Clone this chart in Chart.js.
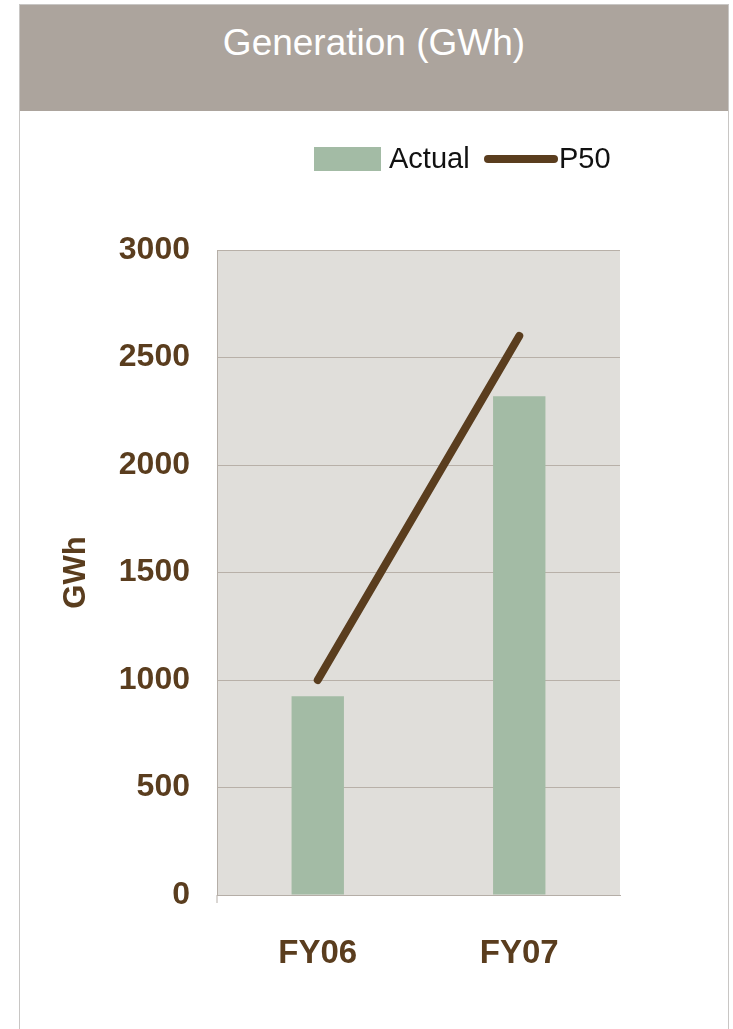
<!DOCTYPE html>
<html>
<head>
<meta charset="utf-8">
<script src="https://cdn.jsdelivr.net/npm/chart.js@4/dist/chart.umd.min.js"></script>
<style>
    html, body { margin: 0; padding: 0; background: #fff; }
    #frame {
        position: absolute; left: 19px; top: 4px; width: 708px; height: 1040px;
        border: 1px solid #c8c6c4; box-sizing: content-box;
    }
    #header {
        height: 106px; background: #aca49d; color: #fff; text-align: center;
        font-family: 'Liberation Sans Narrow', 'Liberation Sans', Arial, sans-serif;
        font-size: 37px; line-height: 76px;
    }
    #wrap { position: relative; width: 708px; height: 919px; }
</style>
</head>
<body>
<div id="frame">
    <div id="header">Generation (GWh)</div>
    <div id="wrap"><canvas id="genChart"></canvas></div>
</div>
<script>
// Chart data
const categories = ['FY06', 'FY07'];
const actualValues = [925, 2320];
const p50Values = [1000, 2600];
const yTicks = [0, 500, 1000, 1500, 2000, 2500, 3000];

const FONT = "'Liberation Sans Narrow', 'Liberation Sans', Arial, sans-serif";
const BROWN = '#5a3d1e';
const GREEN = '#a3bba5';

// Legend drawn on the canvas, using the dataset styles
const legendPlugin = {
    id: 'sideLegend',
    afterDraw(chart) {
        const ctx = chart.ctx;
        const bar = chart.data.datasets.find(d => d.type === 'bar');
        const line = chart.data.datasets.find(d => d.type === 'line');
        const y = 48;
        ctx.save();
        ctx.font = '29px ' + FONT;
        ctx.textBaseline = 'middle';
        ctx.fillStyle = bar.backgroundColor;
        ctx.fillRect(294, y - 12, 67, 24);
        ctx.fillStyle = '#111';
        ctx.fillText(bar.label, 369, y + 1);
        ctx.strokeStyle = line.borderColor;
        ctx.lineWidth = 8;
        ctx.lineCap = 'round';
        ctx.beginPath();
        ctx.moveTo(468, y);
        ctx.lineTo(534, y);
        ctx.stroke();
        ctx.fillStyle = '#111';
        ctx.fillText(line.label, 539, y + 1);
        ctx.restore();
    }
};

// Plot background + little axis stub under zero
const plotBg = {
    id: 'plotBg',
    beforeDraw(chart) {
        const a = chart.chartArea;
        const ctx = chart.ctx;
        ctx.save();
        ctx.fillStyle = '#e0deda';
        ctx.fillRect(a.left, a.top, a.right - a.left, a.bottom - a.top);
        ctx.strokeStyle = '#b5aea7';
        ctx.lineWidth = 1;
        ctx.beginPath();
        ctx.moveTo(a.left, a.bottom);
        ctx.lineTo(a.left, a.bottom + 8);
        ctx.stroke();
        ctx.restore();
    }
};

document.addEventListener('DOMContentLoaded', function() {
    const canvas = document.getElementById('genChart');
    new Chart(canvas, {
        data: {
            labels: categories,
            datasets: [{
                type: 'line',
                label: 'P50',
                data: p50Values,
                borderColor: BROWN,
                borderWidth: 8,
                borderCapStyle: 'round',
                pointRadius: 0,
                order: 0
            }, {
                type: 'bar',
                label: 'Actual',
                data: actualValues,
                backgroundColor: GREEN,
                barPercentage: 0.26,
                categoryPercentage: 1,
                order: 1
            }]
        },
        options: {
            responsive: true,
            maintainAspectRatio: false,
            animation: false,
            layout: { padding: { top: 139, right: 108, left: 0, bottom: 0 } },
            plugins: {
                legend: { display: false },
                tooltip: { enabled: false }
            },
            scales: {
                x: {
                    grid: { display: false },
                    border: { color: '#b5aea7' },
                    ticks: {
                        padding: 31,
                        color: BROWN,
                        font: { family: FONT, size: 33, weight: 'bold' }
                    },
                    afterFit: function(scale) { scale.height = 135; }
                },
                y: {
                    min: 0,
                    max: 3000,
                    afterBuildTicks: function(scale) {
                        scale.ticks = yTicks.map(v => ({ value: v }));
                    },
                    grid: { color: '#b8b0a8', drawTicks: false },
                    border: { color: '#b5aea7' },
                    ticks: {
                        padding: 27,
                        color: BROWN,
                        font: { family: FONT, size: 32, weight: 'bold' },
                        callback: function(value) { return String(value); }
                    },
                    title: {
                        display: true,
                        text: 'GWh',
                        color: BROWN,
                        padding: { top: 38 },
                        font: { family: FONT, size: 31, weight: 'bold' }
                    },
                    afterFit: function(scale) { scale.width = 197; }
                }
            }
        },
        plugins: [plotBg, legendPlugin]
    });
});
</script>
</body>
</html>
